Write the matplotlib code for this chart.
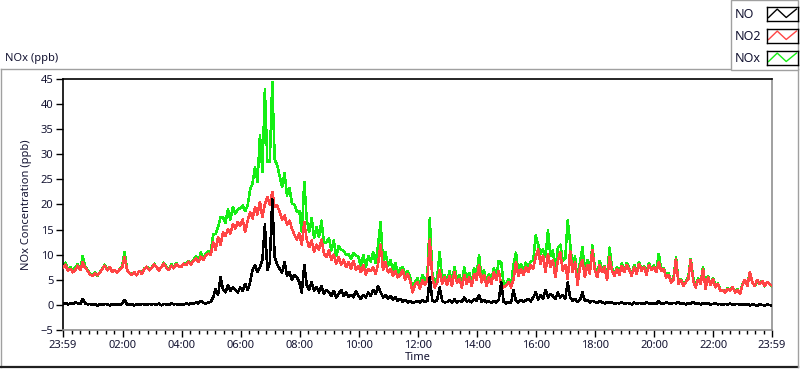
import numpy as np
import matplotlib
matplotlib.use("Agg")
import matplotlib.pyplot as plt
from matplotlib.patches import Rectangle
from matplotlib.lines import Line2D

plt.rcParams["font.family"] = ["Noto Sans", "DejaVu Sans"]

# time of day, minutes after the 23:59 start, one reading every 5 minutes
step_min = 5

no2 = [
    7.5, 8.0, 6.8, 7.2, 6.5, 7.0, 7.8, 6.9, 8.5, 7.4, 6.8, 6.0,
    5.8, 6.3, 5.9, 6.4, 7.2, 7.8, 6.9, 7.5, 6.6, 7.0, 6.4, 7.1,
    7.4, 9.5, 7.0, 6.3, 6.0, 6.5, 5.9, 6.8, 6.2, 7.1, 7.6, 6.9,
    7.3, 8.0, 7.5, 6.9, 7.6, 8.2, 7.4, 7.0, 7.8, 7.3, 8.1, 7.7,
    7.5, 8.2, 7.9, 8.6, 8.0, 8.8, 9.2, 8.5, 9.6, 9.0, 9.8, 10.2,
    10.0, 12.5, 11.0, 13.5, 12.0, 14.5, 13.8, 15.0, 14.2, 16.0, 15.2, 16.5,
    15.8, 17.0, 14.5, 16.8, 18.5, 17.2, 19.5, 18.0, 20.5, 17.5, 20.0, 21.5,
    20.0, 22.5, 19.5, 19.8, 18.5, 17.0, 17.8, 16.0, 16.8, 15.2, 14.0, 13.0,
    14.2, 12.0, 16.5, 13.0, 11.5, 12.8, 10.5, 12.0, 11.0, 13.0, 10.2, 9.5,
    10.8, 9.0, 10.0, 8.2, 9.5, 8.0, 9.0, 7.5, 8.5, 7.2, 8.8, 7.0,
    7.8, 6.5, 8.0, 6.0, 7.2, 6.8, 7.5, 6.2, 8.2, 12.0, 7.0, 8.5,
    6.5, 7.2, 5.8, 6.8, 5.5, 6.0, 7.0, 5.0, 6.2, 4.8, 2.5, 4.0,
    4.5, 3.2, 5.0, 4.0, 4.8, 13.0, 5.5, 3.5, 4.5, 7.0, 4.2, 5.5,
    4.0, 5.8, 3.8, 6.5, 4.5, 5.2, 3.5, 6.0, 4.2, 5.5, 3.8, 6.2,
    5.0, 8.0, 4.5, 6.0, 3.8, 5.5, 4.2, 6.5, 5.0, 6.8, 4.0, 3.5,
    3.8, 4.5, 3.5, 5.0, 8.5, 5.8, 7.2, 6.0, 7.5, 6.5, 8.0, 7.2,
    9.5, 11.0, 8.2, 9.8, 6.5, 10.2, 7.5, 9.0, 5.5, 8.8, 10.5, 6.8,
    8.0, 5.2, 10.8, 6.5, 8.5, 4.0, 7.5, 9.0, 5.5, 8.0, 6.2, 11.0,
    7.0, 5.5, 8.0, 6.5, 7.5, 5.0, 9.5, 6.8, 5.8, 7.2, 6.0, 7.8,
    6.5, 8.0, 7.0, 5.8, 7.5, 6.2, 8.2, 6.8, 7.5, 6.0, 8.0, 7.0,
    7.5, 6.5, 8.5, 6.8, 7.2, 5.5, 6.0, 4.5, 5.0, 9.2, 4.2, 5.0,
    3.8, 4.5, 5.2, 9.0, 4.8, 3.5, 5.0, 4.2, 7.2, 3.2, 5.5, 4.0,
    5.2, 3.5, 4.2, 2.8, 3.0, 2.5, 3.2, 2.8, 3.5, 2.5, 3.0, 2.2,
    4.0, 5.0, 3.8, 6.5, 4.5, 3.8, 5.0, 4.2, 4.8, 3.8, 4.5, 4.2,
    3.8,
]

no = [
    0.2, 0.4, 0.1, 0.3, 0.2, 0.5, 0.3, 0.2, 1.2, 0.3, 0.1, 0.2,
    0.0, 0.2, -0.1, 0.1, 0.0, 0.2, 0.1, -0.1, 0.2, 0.0, 0.1, 0.0,
    0.2, 1.0, 0.1, 0.0, 0.2, -0.1, 0.1, 0.0, 0.2, 0.1, 0.0, 0.2,
    0.1, 0.2, 0.0, 0.3, -0.1, 0.2, 0.1, 0.0, 0.3, 0.1, 0.2, 0.0,
    0.2, 0.0, 0.3, 0.1, 0.4, 0.2, 0.5, 0.3, 0.8, 0.4, 0.3, 0.5,
    0.6, 1.5, 3.2, 2.0, 5.5, 3.0, 2.5, 4.0, 2.8, 3.5, 3.0, 2.5,
    3.5, 2.8, 4.2, 3.0, 4.5, 7.0, 8.0, 6.5, 7.5, 9.0, 16.0, 7.0,
    8.5, 21.0, 9.5, 8.0, 7.2, 6.5, 8.5, 5.8, 6.5, 5.0, 6.0, 5.5,
    4.5, 2.5, 8.0, 4.0, 3.0, 4.5, 2.8, 3.5, 2.5, 3.8, 2.2, 3.0,
    2.5, 1.8, 2.8, 1.5, 2.2, 3.0, 1.8, 2.5, 1.6, 2.0, 1.5, 2.8,
    1.8, 1.2, 2.0, 1.5, 2.5, 1.8, 3.0, 2.2, 3.8, 2.5, 1.5, 2.0,
    1.2, 1.8, 1.0, 1.5, 0.8, 1.2, 0.6, 1.0, 0.5, 0.8, 0.4, 0.6,
    0.8, 0.5, 1.0, 0.6, 0.8, 5.5, 0.9, 0.6, 1.0, 3.5, 0.8, 0.5,
    0.6, 0.9, 0.4, 1.1, 0.5, 0.8, 0.6, 1.5, 0.7, 0.9, 0.5, 1.2,
    0.8, 2.0, 0.6, 1.0, 0.5, 0.7, 0.4, 0.8, 0.5, 1.0, 4.5, 0.6,
    0.3, 0.6, 0.4, 3.0, 0.8, 0.5, 1.0, 0.6, 0.9, 1.2, 0.7, 1.5,
    2.5, 1.0, 2.0, 1.2, 3.0, 1.5, 2.2, 1.8, 1.2, 2.5, 1.5, 2.0,
    1.2, 4.5, 1.5, 0.8, 1.2, 0.6, 1.0, 2.5, 0.8, 1.0, 0.5, 0.8,
    0.6, 0.4, 0.8, 0.5, 0.3, 0.6, 0.4, 0.5, 0.2, 0.4, 0.3, 0.5,
    0.2, 0.4, 0.3, 0.1, 0.5, 0.2, 0.4, 0.3, 0.2, 0.5, 0.3, 0.2,
    0.4, 0.2, 0.8, 0.3, 0.2, 0.5, 0.3, 0.2, 0.4, 0.3, 0.6, 0.2,
    0.3, 0.1, 0.4, 0.2, 0.6, 0.2, 0.3, 0.1, 0.4, 0.2, 0.3, 0.1,
    0.2, 0.3, 0.1, 0.2, 0.0, 0.2, 0.1, 0.3, 0.0, 0.1, 0.2, 0.0,
    0.1, 0.0, 0.2, -0.1, 0.1, 0.0, -0.2, 0.1, 0.0, -0.1, 0.1, 0.0,
    -0.2,
]

nox = [
    7.7, 8.4, 6.9, 7.5, 6.7, 7.5, 8.1, 7.1, 9.7, 7.7, 6.9, 6.2,
    5.8, 6.5, 5.8, 6.5, 7.2, 8.0, 7.0, 7.4, 6.8, 7.0, 6.5, 7.1,
    7.6, 10.5, 7.1, 6.3, 6.2, 6.4, 6.0, 6.8, 6.4, 7.2, 7.6, 7.1,
    7.4, 8.2, 7.5, 7.2, 7.5, 8.4, 7.5, 7.0, 8.1, 7.4, 8.3, 7.7,
    7.7, 8.2, 8.2, 8.7, 8.4, 9.0, 9.7, 8.8, 10.4, 9.4, 10.1, 10.7,
    10.6, 14.0, 14.2, 15.5, 17.5, 17.5, 16.3, 19.0, 17.0, 19.5, 18.2, 19.0,
    19.3, 19.8, 18.7, 19.8, 23.0, 24.2, 27.5, 24.5, 33.8, 26.5, 43.0, 28.5,
    28.5, 44.4, 29.0, 27.8, 25.7, 23.5, 26.3, 21.8, 23.3, 20.2, 20.0, 18.5,
    18.7, 14.5, 24.5, 17.0, 14.5, 17.3, 13.3, 15.5, 13.5, 16.8, 12.4, 12.5,
    13.3, 10.8, 12.8, 9.7, 11.7, 11.0, 10.8, 10.0, 10.1, 9.2, 10.3, 9.8,
    9.6, 7.7, 10.0, 7.5, 9.7, 8.6, 10.5, 8.4, 12.0, 16.5, 8.5, 10.5,
    7.7, 9.0, 6.8, 8.3, 6.3, 7.2, 7.6, 6.0, 6.7, 5.6, 2.9, 4.6,
    5.3, 3.7, 6.0, 4.6, 5.6, 17.2, 6.4, 4.1, 5.5, 10.5, 5.0, 6.0,
    4.6, 6.7, 4.2, 7.6, 5.0, 6.0, 4.1, 7.5, 4.9, 6.4, 4.3, 7.4,
    5.8, 10.0, 5.1, 7.0, 4.3, 6.2, 4.6, 7.3, 5.5, 8.8, 8.5, 4.1,
    4.1, 5.1, 3.9, 8.0, 10.4, 6.3, 8.2, 6.6, 8.4, 7.7, 8.7, 8.7,
    13.8, 12.0, 10.2, 11.0, 9.5, 14.8, 9.7, 10.8, 6.7, 11.3, 12.0, 8.8,
    9.2, 16.8, 12.3, 7.3, 9.7, 4.6, 8.5, 11.5, 6.3, 9.0, 6.7, 11.8,
    7.6, 5.9, 8.8, 7.0, 7.8, 5.6, 11.4, 7.3, 6.0, 7.6, 6.3, 8.3,
    6.7, 8.4, 7.3, 5.9, 8.0, 6.4, 8.6, 7.1, 7.7, 6.5, 8.3, 7.2,
    7.9, 6.7, 10.2, 7.1, 7.4, 6.0, 6.3, 4.7, 5.4, 9.5, 4.8, 5.2,
    4.1, 4.6, 5.6, 9.2, 5.4, 3.7, 5.3, 4.3, 7.6, 3.4, 5.8, 4.1,
    5.4, 3.8, 4.3, 3.0, 3.0, 2.7, 3.3, 3.1, 3.5, 2.6, 3.2, 2.2,
    4.1, 5.0, 4.0, 6.6, 4.6, 3.8, 4.8, 4.3, 4.8, 3.7, 4.6, 4.2,
    3.6,
]

series_names = ["NO", "NO2", "NOx"]
series_colors = {"NO": "#000000", "NO2": "#ff4545", "NOx": "#14ee14"}

tick_labels = ["23:59", "02:00", "04:00", "06:00", "08:00", "10:00",
               "12:00", "14:00", "16:00", "18:00", "20:00", "22:00", "23:59"]
y_ticks = [-5, 0, 5, 10, 15, 20, 25, 30, 35, 40, 45]

W, H = 800, 369
TXT = "#141432"


def fx(x):
    return x / W


def fy(y):
    return 1 - y / H


def minutes_after_start(label, idx):
    if idx == 0:
        return 0
    if idx == len(tick_labels) - 1:
        return 24 * 60
    hh, mm = label.split(":")
    return int(hh) * 60 + int(mm) + 1


t = np.arange(len(no2)) * step_min

fig = plt.figure(figsize=(W / 100, H / 100), dpi=100)

# outer panel frame
fig.add_artist(Line2D([fx(1), fx(1)], [fy(69), fy(367)], color="#a0a0a0", lw=1))
fig.add_artist(Line2D([fx(1), fx(798)], [fy(69), fy(69)], color="#a0a0a0", lw=1))
fig.add_artist(Line2D([fx(1), fx(798)], [fy(367), fy(367)], color="#202020", lw=1.6))
fig.add_artist(Line2D([fx(798), fx(798)], [fy(69), fy(367)], color="#a0a0a0", lw=1))
fig.text(fx(5), fy(58), "NOx (ppb)", fontsize=8, color=TXT, va="center", ha="left")

ax = fig.add_axes([fx(63), fy(330), fx(772) - fx(63), fy(79) - fy(330)])
ax.plot(t, nox, color=series_colors["NOx"], lw=1.1, antialiased=False, zorder=2)
ax.plot(t, no2, color=series_colors["NO2"], lw=1.1, antialiased=False, zorder=3)
ax.plot(t, no, color=series_colors["NO"], lw=1.1, antialiased=False, zorder=4)

ax.set_xlim(0, 24 * 60)
ax.set_ylim(-5, 45)

major = [minutes_after_start(lbl, i) for i, lbl in enumerate(tick_labels)]
minor = []
for a, b in zip(major[:-1], major[1:]):
    minor.extend(np.linspace(a, b, 8)[1:-1])
ax.set_xticks(major)
ax.set_xticklabels(tick_labels)
ax.set_xticks(minor, minor=True)
ax.set_yticks(y_ticks)

ax.tick_params(axis="both", which="major", length=5, width=1, color="#000000",
               labelsize=8, labelcolor=TXT, pad=2)
ax.tick_params(axis="x", which="minor", length=3, width=1, color="#000000")

for side in ["left", "top"]:
    ax.spines[side].set_color("#000000")
for side in ["right", "bottom"]:
    ax.spines[side].set_color("#909090")
for sp in ax.spines.values():
    sp.set_linewidth(1.2)

ax.set_xlabel("Time", fontsize=8, color=TXT, labelpad=1)
ax.set_ylabel("NOx Concentration (ppb)", fontsize=8, color=TXT, labelpad=6)

# legend panel, drawn like the instrument panel plot legend
fig.add_artist(Rectangle((fx(731), fy(70)), fx(798) - fx(731), fy(0) - fy(70),
                         transform=fig.transFigure, facecolor="white",
                         edgecolor="#a0a0a0", lw=1, zorder=5))
row_y = [14, 36, 58]
for name, yc in zip(series_names, row_y):
    fig.text(fx(735), fy(yc), name, fontsize=9, color=TXT, va="center", ha="left", zorder=6)
    sw = fig.add_axes([fx(767), fy(yc + 7), fx(798) - fx(767), fy(yc - 7) - fy(yc + 7)])
    sw.set_zorder(7)
    sw.plot([0.05, 0.33, 0.62, 0.95], [0.25, 0.85, 0.25, 0.85], color=series_colors[name], lw=1)
    sw.set_xlim(0, 1)
    sw.set_ylim(0, 1)
    sw.set_xticks([])
    sw.set_yticks([])
    for sp in sw.spines.values():
        sp.set_color("#000000")
        sp.set_linewidth(1)

fig.savefig("out.png", dpi=100)
